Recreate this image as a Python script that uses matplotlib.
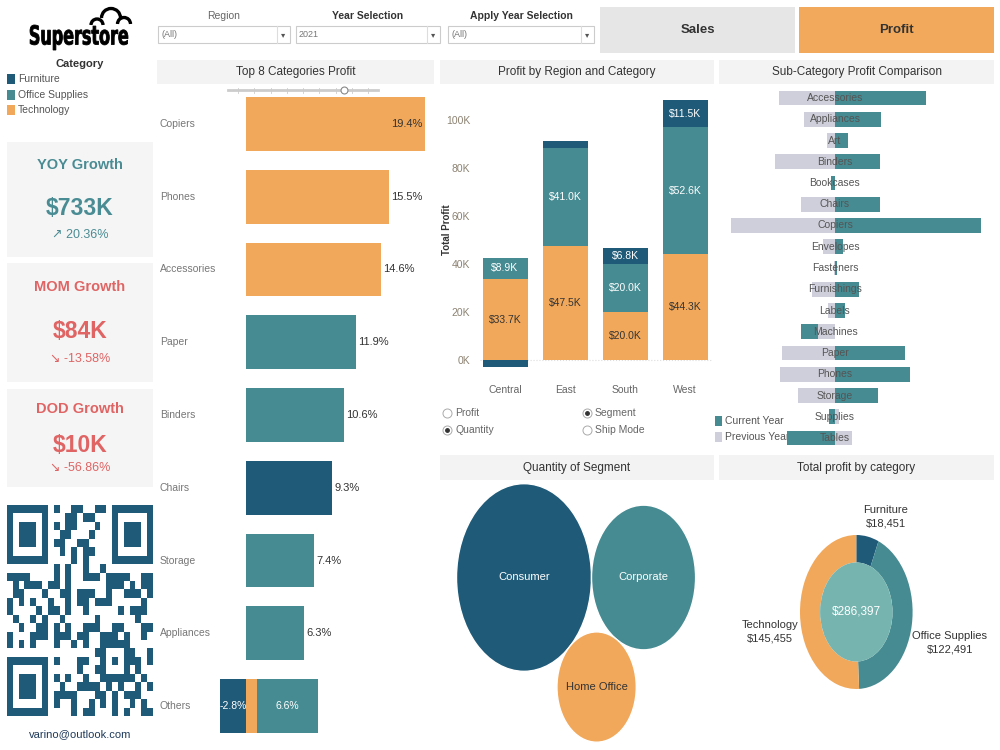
import numpy as np
import matplotlib
matplotlib.use('Agg')
import matplotlib.pyplot as plt
from matplotlib.patches import Rectangle, Circle, Arc, PathPatch
from matplotlib.colors import ListedColormap
from matplotlib.textpath import TextPath
from matplotlib.font_manager import FontProperties
from matplotlib.transforms import Affine2D

plt.rcParams['font.family'] = ['Liberation Sans', 'DejaVu Sans']

W, H = 1000, 750
ORANGE = '#F1A85B'
TEAL = '#468B92'
DARK = '#1F5A78'
GREY_PREV = '#CFCFDB'
PANEL = '#F3F3F3'
INNER = '#75B4AF'
KPI_TEAL = '#4A8C94'
KPI_RED = '#E06464'
CAT_COLORS = {'Furniture': DARK, 'Office Supplies': TEAL, 'Technology': ORANGE}

# ---- data ----
categories = ['Furniture', 'Office Supplies', 'Technology']

kpi_titles = ['YOY Growth', 'MOM Growth', 'DOD Growth']
kpi_values = ['$733K', '$84K', '$10K']
kpi_changes = ['\u2197 20.36%', '\u2198 -13.58%', '\u2198 -56.86%']

top_cats = ['Copiers', 'Phones', 'Accessories', 'Paper', 'Binders', 'Chairs', 'Storage', 'Appliances']
top_share = [19.4, 15.5, 14.6, 11.9, 10.6, 9.3, 7.4, 6.3]
top_group = ['Technology', 'Technology', 'Technology', 'Office Supplies', 'Office Supplies',
             'Furniture', 'Office Supplies', 'Office Supplies']
others_group = ['Furniture', 'Technology', 'Office Supplies']
others_share = [-2.8, 1.2, 6.6]

regions = ['Central', 'East', 'South', 'West']
region_tech = [33.7, 47.5, 20.0, 44.3]
region_office = [8.9, 41.0, 20.0, 52.6]
region_furn = [-3.0, 2.8, 6.8, 11.5]

subcats = ['Accessories', 'Appliances', 'Art', 'Binders', 'Bookcases', 'Chairs', 'Copiers',
           'Envelopes', 'Fasteners', 'Furnishings', 'Labels', 'Machines', 'Paper', 'Phones',
           'Storage', 'Supplies', 'Tables']
cur_year = [34.6, 17.5, 4.9, 17.1, -1.5, 17.1, 55.5, 3.0, 0.8, 9.1, 3.8, -12.9, 26.6, 28.5, 16.3, -2.3, -18.2]
prev_year = [21.3, 11.8, 3.0, 22.8, 0.0, 12.9, 39.5, 4.6, 0.4, 8.7, 2.7, 6.5, 20.1, 20.9, 14.1, -1.5, -6.5]

segments = ['Consumer', 'Corporate', 'Home Office']
segment_qty = [19521, 11608, 6744]

cat_profit = [18451, 122491, 145455]


def box(l, t, r, b):
    return [l / W, 1 - b / H, (r - l) / W, (b - t) / H]


fig = plt.figure(figsize=(10, 7.5), dpi=100)
fig.patch.set_facecolor('white')

# overlay in pixel coordinates
ov = fig.add_axes([0, 0, 1, 1])
ov.set_xlim(0, W)
ov.set_ylim(H, 0)
ov.axis('off')


def panel(l, t, r, b, color=PANEL, title=None, fs=8.5, tcolor='#333333', weight='normal'):
    ov.add_patch(Rectangle((l, t), r - l, b - t, facecolor=color, edgecolor='none'))
    if title:
        ov.text((l + r) / 2, (t + b) / 2, title, ha='center', va='center', fontsize=fs,
                color=tcolor, fontweight=weight)


# logo, squeezed into its box
tp = TextPath((0, 0), 'Superstore', size=10, prop=FontProperties(family='DejaVu Sans', weight='bold'))
ext = tp.get_extents()
tr = Affine2D().translate(-ext.x0, -ext.y0).scale(98 / ext.width, -25 / ext.height).translate(30, 50)
ov.add_patch(PathPatch(tr.transform_path(tp), facecolor='black', edgecolor='black', lw=0.6))
for cx, cy, r in [(97, 25, 6), (111, 18, 9.5), (124, 24, 6.5)]:
    ov.add_patch(Arc((cx, cy), 2 * r, 2 * r, theta1=180, theta2=360, lw=2.4, color='black'))
ov.text(80, 64, 'Category', ha='center', va='center', fontsize=8, fontweight='bold', color='#333333')
for i, c in enumerate(categories):
    y = 79 + 15.5 * i
    ov.add_patch(Rectangle((7, y - 5), 8, 10, facecolor=CAT_COLORS[c], edgecolor='none'))
    ov.text(18, y, c, ha='left', va='center', fontsize=7.5, color='#555555')

# filters
filters = [('Region', '(All)', 158, 290, 'normal', '#666666'),
           ('Year Selection', '2021', 296, 440, 'bold', '#333333'),
           ('Apply Year Selection', '(All)', 448, 594, 'bold', '#333333')]
for lab, val, l, r, wt, col in filters:
    ov.text((l + r) / 2, 16, lab, ha='center', va='center', fontsize=7.5, fontweight=wt, color=col)
    ov.add_patch(Rectangle((l, 26), r - l, 17, facecolor='white', edgecolor='#cccccc', lw=0.8))
    ov.plot([r - 13, r - 13], [26, 43], color='#dddddd', lw=0.8)
    ov.text(l + 3, 34.5, val, ha='left', va='center', fontsize=6.5, color='#777777')
    ov.text(r - 6.5, 34.5, '\u25be', ha='center', va='center', fontsize=6, color='#555555',
            family='DejaVu Sans')

# buttons
panel(600, 7, 795, 53, color='#E6E6E6', title='Sales', fs=9.5, weight='bold')
panel(799, 7, 994, 53, color='#F2A95C', title='Profit', fs=9.5, weight='bold')

# section headers
panel(157, 60, 434, 84, title='Top 8 Categories Profit')
panel(440, 60, 714, 84, title='Profit by Region and Category')
panel(719, 60, 994, 84, title='Sub-Category Profit Comparison')
panel(440, 455, 714, 480, title='Quantity of Segment')
panel(719, 455, 994, 480, title='Total profit by category')

# KPI cards
kpi_boxes = [(142, 257), (263, 382), (389, 487)]
kpi_cols = [KPI_TEAL, KPI_RED, KPI_RED]
for (t, b), ttl, v, ch, col in zip(kpi_boxes, kpi_titles, kpi_values, kpi_changes, kpi_cols):
    ov.add_patch(Rectangle((7, t), 146, b - t, facecolor='#F5F5F5', edgecolor='none'))
    h = b - t
    ov.text(80, t + 0.2 * h, ttl, ha='center', va='center', fontsize=10.5, fontweight='bold', color=col)
    ov.text(80, t + 0.575 * h, v, ha='center', va='center', fontsize=16.5, fontweight='bold', color=col)
    ov.text(80, t + 0.81 * h, ch, ha='center', va='center', fontsize=9, color=col)

# QR code (decorative)
n = 25
qr = np.zeros((n, n))
for i in range(n):
    for j in range(n):
        qr[i, j] = 1 if ((i * 73856093) ^ (j * 19349663) ^ (i * j * 83492791)) % 11 < 5 else 0
for (r0, c0) in [(0, 0), (0, n - 7), (n - 7, 0)]:
    rs = slice(max(r0 - 1, 0), min(r0 + 8, n))
    cs = slice(max(c0 - 1, 0), min(c0 + 8, n))
    qr[rs, cs] = 0
    qr[r0:r0 + 7, c0:c0 + 7] = 1
    qr[r0 + 1:r0 + 6, c0 + 1:c0 + 6] = 0
    qr[r0 + 2:r0 + 5, c0 + 2:c0 + 5] = 1
qr[16:21, 16:21] = 1
qr[17:20, 17:20] = 0
qr[18, 18] = 1
axq = fig.add_axes(box(7, 505, 153, 716))
axq.imshow(qr, cmap=ListedColormap(['white', DARK]), aspect='auto', interpolation='nearest')
axq.axis('off')
ov.text(80, 734, 'varino@outlook.com', ha='center', va='center', fontsize=8, color='#1F3A5A')

# ---- Top 8 categories ----
ax1 = fig.add_axes(box(157, 95, 435, 740))
ax1.set_facecolor('none')
px_per = 179 / 19.4
ax1.set_xlim((157 - 246) / px_per, (435 - 246) / px_per)
ax1.set_ylim((740 - 124) / 72.75, (95 - 124) / 72.75)
ypos = np.arange(len(top_cats))
ax1.barh(ypos, top_share, height=0.74, color=[CAT_COLORS[g] for g in top_group])
for y, v, name in zip(ypos, top_share, top_cats):
    if v > 18:
        ax1.text(v - 0.3, y, f'{v:.1f}%', ha='right', va='center', fontsize=8, color='#333333')
    else:
        ax1.text(v + 0.25, y, f'{v:.1f}%', ha='left', va='center', fontsize=8, color='#333333')
y_oth = len(top_cats)
neg_left = 0.0
pos_left = 0.0
for g, v in zip(others_group, others_share):
    if v < 0:
        ax1.barh(y_oth, v, left=neg_left, height=0.74, color=CAT_COLORS[g])
        mid = neg_left + v / 2
        neg_left += v
    else:
        ax1.barh(y_oth, v, left=pos_left, height=0.74, color=CAT_COLORS[g])
        mid = pos_left + v / 2
        pos_left += v
    if abs(v) > 2:
        ax1.text(mid, y_oth, f'{v:.1f}%', ha='center', va='center', fontsize=7.5, color='white')
for y, name in zip(list(ypos) + [y_oth], top_cats + ['Others']):
    ax1.text(ax1.get_xlim()[0] + 0.3, y, name, ha='left', va='center', fontsize=7.5, color='#777777')
ax1.axis('off')

# slider
ov.plot([228, 378], [90, 90], color='#cccccc', lw=2)
for xt in np.linspace(238, 368, 9):
    ov.plot([xt, xt], [88, 93], color='#cccccc', lw=0.6)
ov.plot([344], [90], marker='o', ms=5, mfc='white', mec='#888888', mew=0.8)

# ---- Profit by region and category ----
ax2 = fig.add_axes(box(480, 92, 712, 375))
ax2.set_facecolor('none')
xr = np.arange(len(regions))
tech = np.array(region_tech)
office = np.array(region_office)
furn = np.array(region_furn)
ax2.bar(xr, tech, width=0.75, color=ORANGE)
ax2.bar(xr, office, width=0.75, bottom=tech, color=TEAL)
furn_bottom = np.where(furn < 0, 0, tech + office)
ax2.bar(xr, furn, width=0.75, bottom=furn_bottom, color=DARK)
ax2.axhline(0, color='#dddddd', lw=0.8, ls=':', zorder=0)
for x, t, o, f in zip(xr, tech, office, furn):
    ax2.text(x, t / 2, f'${t:.1f}K', ha='center', va='center', fontsize=7.5, color='#333333')
    ax2.text(x, t + o / 2, f'${o:.1f}K', ha='center', va='center', fontsize=7.5, color='white')
    if f > 5:
        ax2.text(x, t + o + f / 2, f'${f:.1f}K', ha='center', va='center', fontsize=7.5, color='white')
ax2.set_xlim(-25 / 60, 207 / 60)
ax2.set_ylim(-15 / 2.4, 268 / 2.4)
ax2.set_yticks(np.arange(0, 101, 20))
ax2.set_yticklabels([f'{v}K' for v in range(0, 101, 20)], fontsize=7.5, color='#8c8272')
ax2.set_xticks(xr)
ax2.set_xticklabels(regions, fontsize=7.5, color='#666666')
ax2.tick_params(length=0, axis='x', pad=7)
ax2.tick_params(length=0, axis='y', pad=7)
for s in ax2.spines.values():
    s.set_visible(False)
fig.text(447 / W, 1 - 230 / H, 'Total Profit', rotation=90, ha='center', va='center',
         fontsize=7, fontweight='bold', color='#333333')

# radio buttons
radios = [(447, 413, 'Profit', False), (447, 430, 'Quantity', True),
          (587, 413, 'Segment', True), (587, 430, 'Ship Mode', False)]
for x, y, lab, sel in radios:
    ov.plot([x], [y], marker='o', ms=6.5, mfc='white', mec='#aaaaaa', mew=0.7)
    if sel:
        ov.plot([x], [y], marker='o', ms=2.5, color='#333333')
    ov.text(x + 8, y, lab, ha='left', va='center', fontsize=7.5, color='#666666')

# ---- Sub-category comparison ----
ax3 = fig.add_axes(box(719, 88, 994, 448))
ax3.set_facecolor('none')
k = 0.38
ax3.set_xlim(-(835 - 719) * k, (994 - 835) * k)
ax3.set_ylim((448 - 98) / 21.25, (88 - 98) / 21.25)
ys = np.arange(len(subcats))
ax3.barh(ys, cur_year, height=0.7, color=TEAL, zorder=2)
ax3.barh(ys, [-p for p in prev_year], height=0.7, color=GREY_PREV, zorder=3)
for y, name in zip(ys, subcats):
    ax3.text(0, y, name, ha='center', va='center', fontsize=7.5, color='#555555', zorder=4)
ax3.axis('off')
for y, col, lab in [(421, TEAL, 'Current Year'), (437, GREY_PREV, 'Previous Year')]:
    ov.add_patch(Rectangle((715, y - 5), 7, 10, facecolor=col, edgecolor='none'))
    ov.text(725, y, lab, ha='left', va='center', fontsize=7.5, color='#555555')

# ---- Quantity of segment (packed bubbles) ----
ax4 = fig.add_axes(box(440, 482, 714, 748))
ax4.set_facecolor('none')
rk = 67.5 / np.sqrt(max(segment_qty))
radii = [rk * np.sqrt(q) for q in segment_qty]
r1, r2, r3 = radii
c1 = (0.0, 0.0)
c2 = (r1 + r2, 0.0)
D = r1 + r2
d1, d2 = r1 + r3, r2 + r3
x3 = (d1 ** 2 - d2 ** 2 + D ** 2) / (2 * D)
y3 = -np.sqrt(d1 ** 2 - x3 ** 2)
centers = [c1, c2, (x3, y3)]
seg_colors = [DARK, TEAL, ORANGE]
seg_text = ['white', 'white', '#333333']
for (cx, cy), r, col, tc, name in zip(centers, radii, seg_colors, seg_text, segments):
    ax4.add_patch(Circle((cx, cy), r, facecolor=col, edgecolor='white', lw=1))
    ax4.text(cx, cy, name, ha='center', va='center', fontsize=8, color=tc)
sy = 1.39
ax4.set_xlim(440 - 524, 714 - 524)
ax4.set_ylim((577.5 - 748) / sy, (577.5 - 482) / sy)
ax4.axis('off')

# ---- Donut ----
ax5 = fig.add_axes(box(756.3, 512, 956.3, 712))
ax5.set_facecolor('none')
ax5.pie(cat_profit, colors=[CAT_COLORS[c] for c in categories], startangle=90, counterclock=False,
        wedgeprops=dict(width=0.357, edgecolor='none'))
ax5.add_patch(Circle((0, 0), 0.643, facecolor=INNER, edgecolor='none'))
ax5.text(0, 0, f'${sum(cat_profit):,}', ha='center', va='center', fontsize=8.5, color='white')
ax5.set_aspect('auto')
ax5.set_xlim(-100 / 56.3, 100 / 56.3)
ax5.set_ylim(-100 / 77, 100 / 77)
ax5.axis('off')
donut_labels = [(886, 517), (950, 643), (770, 632)]
for (x, y), c, v in zip(donut_labels, categories, cat_profit):
    ov.text(x, y, f'{c}\n${v:,}', ha='center', va='center', fontsize=8, color='#333333',
            linespacing=1.4)

fig.savefig('out.png', dpi=100)
